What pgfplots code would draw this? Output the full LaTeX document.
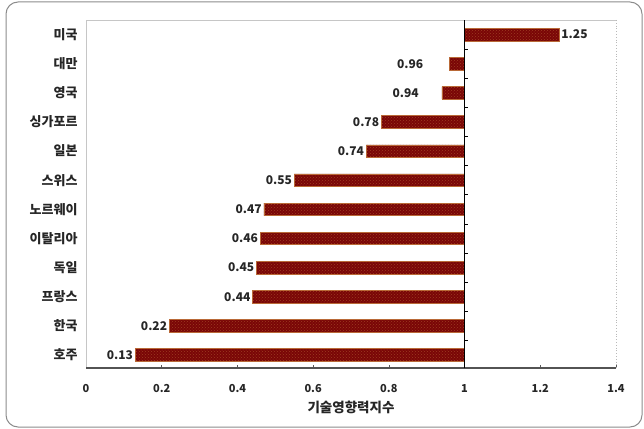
\documentclass[border=0pt]{standalone}
\usepackage{fontspec}
\setmainfont{Noto Sans CJK KR}
\usepackage{pgfplots}
\usepackage{pgfplotstable}
\pgfplotsset{compat=1.18}
\usetikzlibrary{patterns}
\definecolor{barred}{RGB}{122,6,6}
\definecolor{baredge}{RGB}{185,105,55}
\definecolor{framegray}{RGB}{140,140,140}

% bars below 1 (labels to the left of the bar end)
\pgfplotstableread{
idx v dx
0 0.13 0
1 0.22 0
2 0.44 0
3 0.45 0
4 0.46 0
5 0.47 0
6 0.55 0
7 0.74 0
8 0.78 0
9 0.94 -21
10 0.96 -24
}\lowtable
% bar above 1 (label to the right)
\pgfplotstableread{
idx v dx
11 1.25 0
}\hightable

\begin{document}
\begin{tikzpicture}
\useasboundingbox (0pt,0pt) rectangle (644pt,428pt);
\draw[framegray, line width=1pt, rounded corners=12pt] (6pt,1pt) rectangle (642pt,426pt);
\begin{axis}[
  at={(86pt,60pt)}, anchor=south west,
  scale only axis, width=530pt, height=348pt,
  xmin=-1, xmax=0.4, ymin=-0.45, ymax=11.5,
  /pgf/number format/assume math mode=true,
  axis line style={draw=none},
  xtick={-1,-0.8,-0.6,-0.4,-0.2,0,0.2,0.4},
  xticklabels={0,0.2,0.4,0.6,0.8,1,1.2,1.4},
  xtick pos=lower, xtick align=inside,
  major tick length=3pt,
  xtick style={draw=gray!70!black, line width=0.6pt},
  ytick={0,...,11},
  yticklabels={호주,한국,프랑스,독일,이탈리아,노르웨이,스위스,일본,싱가포르,영국,대만,미국},
  ytick style={draw=none},
  ticklabel style={font=\bfseries\fontsize{11}{13}\selectfont, text=black!85},
  yticklabel style={font=\bfseries\fontsize{13}{15}\selectfont, anchor=east, xshift=-5pt},
  xticklabel style={anchor=base, yshift=-24pt},
  xlabel={기술영향력지수},
  xlabel style={font=\bfseries\fontsize{13.5}{15}\selectfont, text=black!85, at={(axis description cs:0.5,0)}, anchor=center, yshift=-39pt},
  clip=false,
  barstyle/.style={xbar, bar width=12.5pt, fill=barred, draw=baredge, line width=0.4pt,
    postaction={pattern=crosshatch dots, pattern color=baredge!55!barred},
    point meta=explicit,
    nodes near coords={\pgfmathprintnumber[fixed,precision=2,fixed zerofill]{\pgfplotspointmeta}},
    visualization depends on={\thisrow{dx} \as \dx},
    every node near coord/.append style={font=\bfseries\fontsize{12}{14}\selectfont, text=black!85, anchor=#1, xshift=\dx pt, inner sep=2pt}},
]
\draw[gray!45, line width=0.8pt] (rel axis cs:0,0) -- (rel axis cs:0,1) -- (rel axis cs:1,1);
\draw[gray!55, line width=0.8pt, dotted] (rel axis cs:1,1) -- (rel axis cs:1,0);
\addplot[barstyle=east] table[x expr=\thisrow{v}-1, y=idx, meta=v] {\lowtable};
\addplot[barstyle=west] table[x expr=\thisrow{v}-1, y=idx, meta=v] {\hightable};
\draw[gray!65!black, line width=1.2pt] (rel axis cs:0,0) -- (rel axis cs:1,0);
\draw[black, line width=0.9pt] (axis cs:0,-0.45) -- (axis cs:0,11.5);
\pgfplotsinvokeforeach{0.5,1.5,2.5,3.5,4.5,5.5,6.5,7.5,8.5,9.5,10.5}{\draw[black, line width=0.6pt] (axis cs:0,#1) -- ++(3pt,0pt);}
\end{axis}
\end{tikzpicture}
\end{document}
